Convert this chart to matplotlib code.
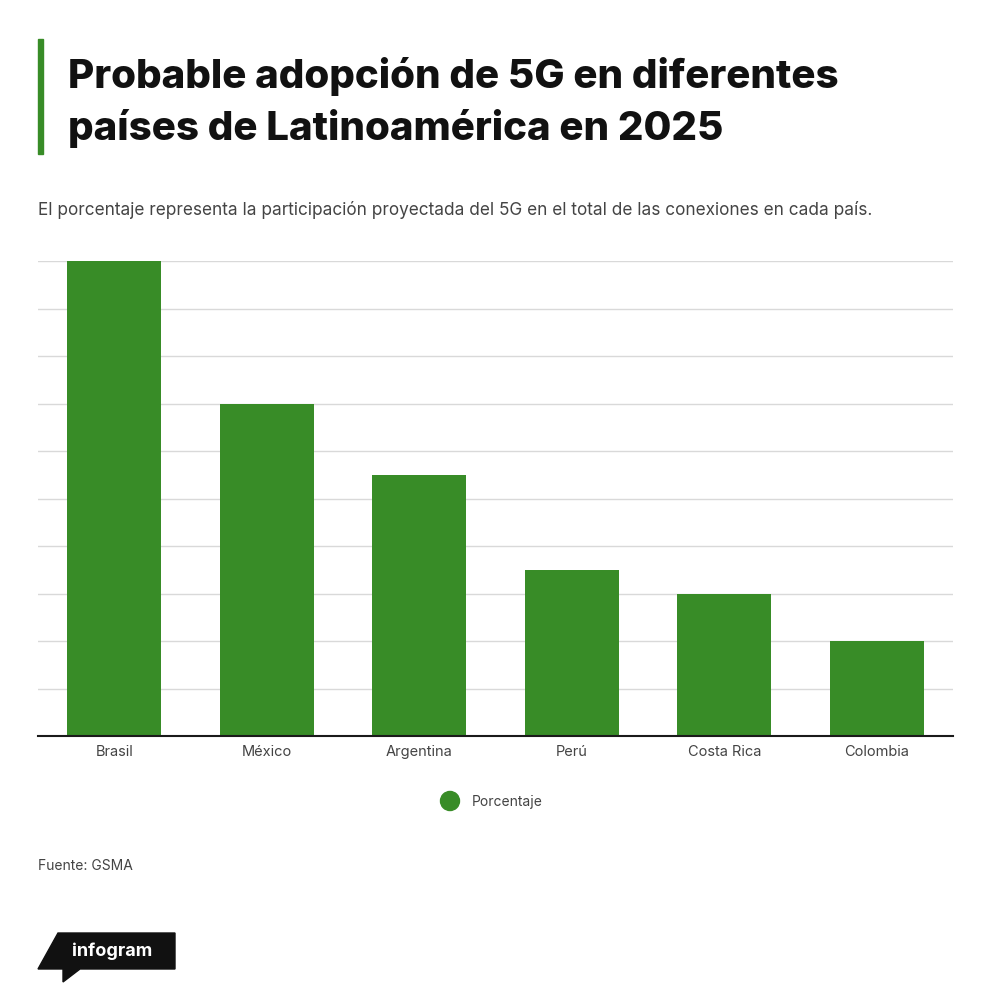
import matplotlib.pyplot as plt
from matplotlib.patches import Polygon, Rectangle
import numpy as np

# Data
paises = ['Brasil', 'México', 'Argentina', 'Perú', 'Costa Rica', 'Colombia']
porcentaje = [20, 14, 11, 7, 6, 4]

verde = '#388c27'
W, H = 1000, 1003

plt.rcParams['font.family'] = ['Inter', 'DejaVu Sans']

fig = plt.figure(figsize=(W / 100, H / 100), dpi=100)

def fx(px):
    return px / W

def fy(py):
    return 1 - py / H

# axes: left 38, right 953, top 262, bottom 737
ax = fig.add_axes([fx(38), fy(737), fx(953 - 38), (737 - 262) / H])
x = np.arange(len(paises))
ax.bar(x, porcentaje, width=0.617, color=verde, zorder=3)
ax.set_xlim(-0.5, len(paises) - 0.5)
ax.set_ylim(0, 20)
ax.set_yticks(np.arange(0, 21, 2))
ax.set_yticklabels([])
ax.tick_params(axis='y', length=0)
ax.grid(axis='y', color='#d9d9d9', linewidth=1, zorder=0)
for s in ['top', 'right', 'left']:
    ax.spines[s].set_visible(False)
ax.spines['bottom'].set_color('#1a1a1a')
ax.spines['bottom'].set_linewidth(1.5)
ax.spines['bottom'].set_zorder(4)
ax.set_xticks(x)
ax.set_xticklabels(paises, fontsize=10.5, color='#444444')
ax.tick_params(axis='x', length=0, pad=6)

# title block
fig.add_artist(Rectangle((fx(38), fy(155)), fx(5), (155 - 40) / H,
                         color=verde, transform=fig.transFigure))
fig.text(fx(68), fy(76), 'Probable adopción de 5G en diferentes',
         fontsize=29, fontweight=800, color='#111111', va='center')
fig.text(fx(68), fy(129), 'países de Latinoamérica en 2025',
         fontsize=29, fontweight=800, color='#111111', va='center')
fig.text(fx(38), fy(210), 'El porcentaje representa la participación proyectada del 5G en el total de las conexiones en cada país.',
         fontsize=12.4, color='#444444', va='center')

# legend
fig.add_artist(plt.Circle((fx(450), fy(802)), 0.0095, color=verde,
                          transform=fig.transFigure))
fig.text(fx(472), fy(802), 'Porcentaje', fontsize=10, color='#444444', va='center')

fig.text(fx(38), fy(866), 'Fuente: GSMA', fontsize=10, color='#444444', va='center')

# infogram logo
logo = Polygon([(fx(58), fy(934)), (fx(175), fy(934)), (fx(175), fy(970)),
                (fx(80), fy(970)), (fx(63), fy(983)), (fx(63), fy(970)),
                (fx(38), fy(970))], closed=True, color='#111111',
               transform=fig.transFigure)
fig.add_artist(logo)
fig.text(fx(112), fy(951), 'infogram', fontsize=13, fontweight='bold',
         color='white', va='center', ha='center')

fig.savefig('out.png', dpi=100, facecolor='white')
